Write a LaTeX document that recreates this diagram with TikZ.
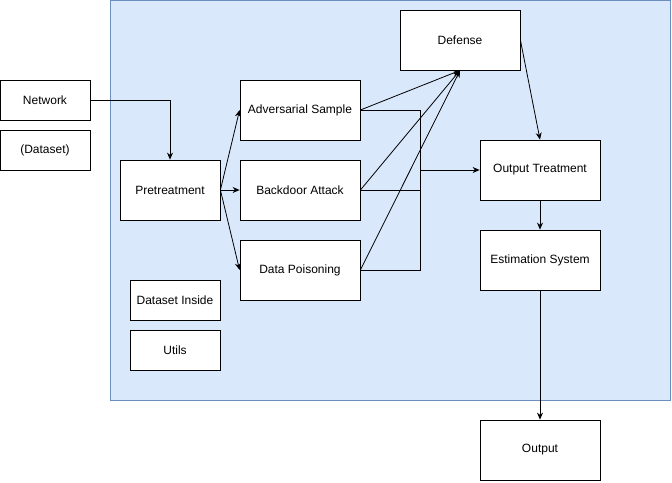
\documentclass[tikz,border=0pt]{standalone}
\usepackage{fontspec}
\setmainfont{Liberation Sans}
\usetikzlibrary{arrows.meta}
\definecolor{panelfill}{HTML}{DAE8FC}
\definecolor{panelline}{HTML}{6C8EBF}
\begin{document}
\begin{tikzpicture}
  [x=1pt,y=-1pt,line width=0.8pt,
   every node/.style={draw,fill=white,font=\fontsize{12}{14}\selectfont,inner sep=2pt},
   wide/.style={minimum width=120pt,minimum height=60pt},
   small/.style={minimum width=90pt,minimum height=40pt},
   >={Stealth[length=7pt,width=6pt]}]
  \useasboundingbox (0,0) rectangle (672,482);
  \fill[panelfill,draw=panelline] (110,0.5) rectangle (670,400);

  \node[small] (net) at (45,100) {Network};
  \node[small] (ds) at (45,150) {(Dataset)};
  \node[minimum width=100pt,minimum height=60pt] (pre) at (170,190) {Pretreatment};
  \node[wide] (adv) at (300,110) {Adversarial Sample};
  \node[wide] (bd) at (300,190) {Backdoor Attack};
  \node[wide] (dp) at (300,270) {Data Poisoning};
  \node[wide] (def) at (460,40) {Defense};
  \node[wide] (ot) at (540,170) {Output Treatment};
  \node[wide] (est) at (540,260) {Estimation System};
  \node[wide] (out) at (540,450) {Output};
  \node[small] (dsi) at (175,300) {Dataset Inside};
  \node[small] (ut) at (175,350) {Utils};
  \coordinate (merge) at (420,170);

\draw [->] (net.east) -| (pre.north);
\path [->]
(pre.east) edge (adv.west)
(pre.east) edge (bd.west)
(pre.east) edge (dp.west)
(adv.east) edge (def.south)
(bd.east) edge (def.south)
(dp.east) edge (def.south)
(def.east) edge (ot.north)
(ot.south) edge (est.north)
(est.south) edge (out.north)
(merge) edge (ot.west)
;
\draw (adv.east) -| (merge)
      (bd.east) -| (merge)
      (dp.east) -| (merge);
\end{tikzpicture}
\end{document}
